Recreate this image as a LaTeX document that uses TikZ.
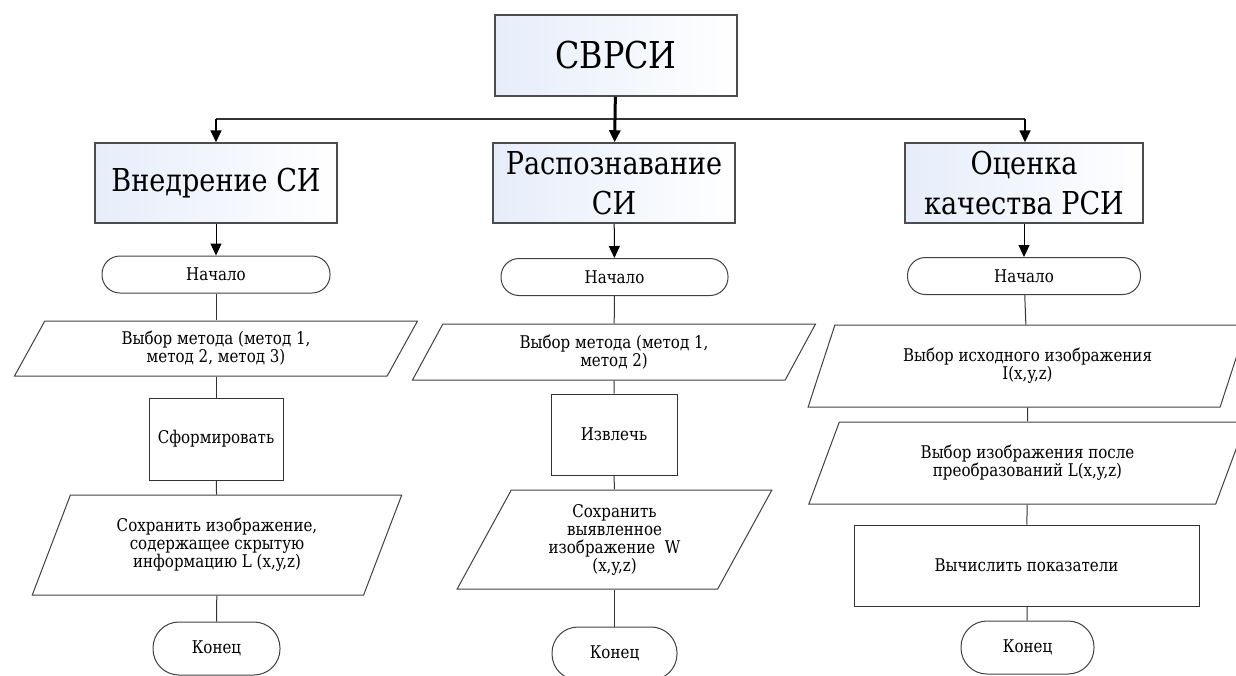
\documentclass[tikz,border=0pt]{standalone}
\usepackage{fontspec}
\setmainfont{DejaVu Serif}[FakeStretch=0.86]
\usetikzlibrary{shapes.geometric, arrows.meta}
\definecolor{headblue}{RGB}{230,237,250}
\tikzstyle{head} = [rectangle, minimum width=242pt, minimum height=80pt, align=center, draw=black!70, line width=1.5pt, left color=headblue, right color=white, font=\fontsize{31.5}{40}\selectfont]
\tikzstyle{startstop} = [rectangle, minimum height=37pt, rounded corners=18pt, draw=black!75, line width=1pt, font=\fontsize{17.5}{18}\selectfont]
\tikzstyle{io} = [trapezium, trapezium left angle=64, trapezium right angle=116, trapezium stretches=true, inner sep=0pt, align=center, draw=black!75, line width=1pt, font=\fontsize{17.5}{18}\selectfont]
\tikzstyle{process} = [rectangle, minimum height=81pt, align=center, draw=black!80, line width=1pt, font=\fontsize{17.5}{18}\selectfont]
\tikzstyle{link} = [draw=black!80, line width=1pt]
\tikzstyle{arrow} = [line width=1pt, -{Triangle[width=11pt,length=12pt]}]

\begin{document}
\begin{tikzpicture}[x=1pt, y=-1pt]
\useasboundingbox (0,0) rectangle (1236,675);
\node (svrsi) [head, minimum width=242pt, minimum height=81pt, font=\fontsize{37}{40}\selectfont] at (616,55.5) {СВРСИ};
\node (embed) [head] at (216,183) {Внедрение СИ};
\node (detect) [head] at (614,183) {Распознавание\\СИ};
\node (quality) [head, minimum width=238pt] at (1024,183) {Оценка\\качества РСИ};
\node (start1) [startstop, minimum width=228pt] at (216,274.5) {Начало};
\node (start2) [startstop, minimum width=227pt] at (614.5,277) {Начало};
\node (start3) [startstop, minimum width=233pt] at (1024,276) {Начало};
\node (method1) [io, minimum width=404pt, minimum height=55pt] at (216,348.5) {Выбор метода (метод 1,\\метод 2, метод 3)};
\node (form) [process, minimum width=134pt, minimum height=82pt] at (216,439) {Сформировать};
\node (save1) [io, minimum width=370pt, minimum height=100pt] at (217,545) {Сохранить изображение,\\содержащее скрытую\\информацию L (x,y,z)};
\node (end1) [startstop, minimum width=127pt, minimum height=53pt, rounded corners=26pt] at (216.5,648.5) {Конец};
\node (method2) [io, minimum width=404pt, minimum height=56pt] at (614,352) {Выбор метода (метод 1,\\метод 2)};
\node (extract) [process, minimum width=126pt] at (614,434.5) {Извлечь};
\node (save2) [io, minimum width=315pt, minimum height=99pt] at (614.5,539.5) {Сохранить\\выявленное\\изображение\ \ W\\(x,y,z)};
\node (end2) [startstop, minimum width=125pt, minimum height=53pt, rounded corners=26pt] at (614.5,653.5) {Конец};
\node (source) [io, minimum width=439pt, minimum height=82pt] at (1027.5,366) {Выбор исходного изображения\\I(x,y,z)};
\node (after) [io, minimum width=439pt, minimum height=82pt] at (1027.5,463) {Выбор изображения после\\преобразований L(x,y,z)};
\node (calc) [process, minimum width=345pt] at (1026.5,565.5) {Вычислить показатели};
\node (end3) [startstop, minimum width=133pt, minimum height=53pt, rounded corners=26pt] at (1027.5,647.5) {Конец};
\coordinate (barleft) at (216,119);
\coordinate (barright) at (1025,119);
\draw [link, line width=1.8pt] (barleft) -- (barright);
\draw [arrow, line width=1.8pt] (barleft) -- (embed);
\draw [arrow, line width=1.8pt] (barright) -- (barright |- quality.north);
\draw [arrow, line width=3pt] (svrsi) -- (detect);
\draw [arrow] (embed) -- (start1);
\draw [arrow] (detect) -- (start2);
\draw [arrow] (quality) -- (start3);
\draw [link] (start1) -- (method1);
\draw [link] (method1) -- (form);
\draw [link] (form) -- (save1);
\draw [link] (save1) -- (end1);
\draw [link] (start2) -- (method2);
\draw [link] (method2) -- (extract);
\draw [link] (extract) -- (save2);
\draw [link] (save2) -- (end2);
\draw [link] (start3) -- (source);
\draw [link] (source) -- (after);
\draw [link] (after) -- (calc);
\draw [link] (calc) -- (end3);
\end{tikzpicture}
\end{document}
